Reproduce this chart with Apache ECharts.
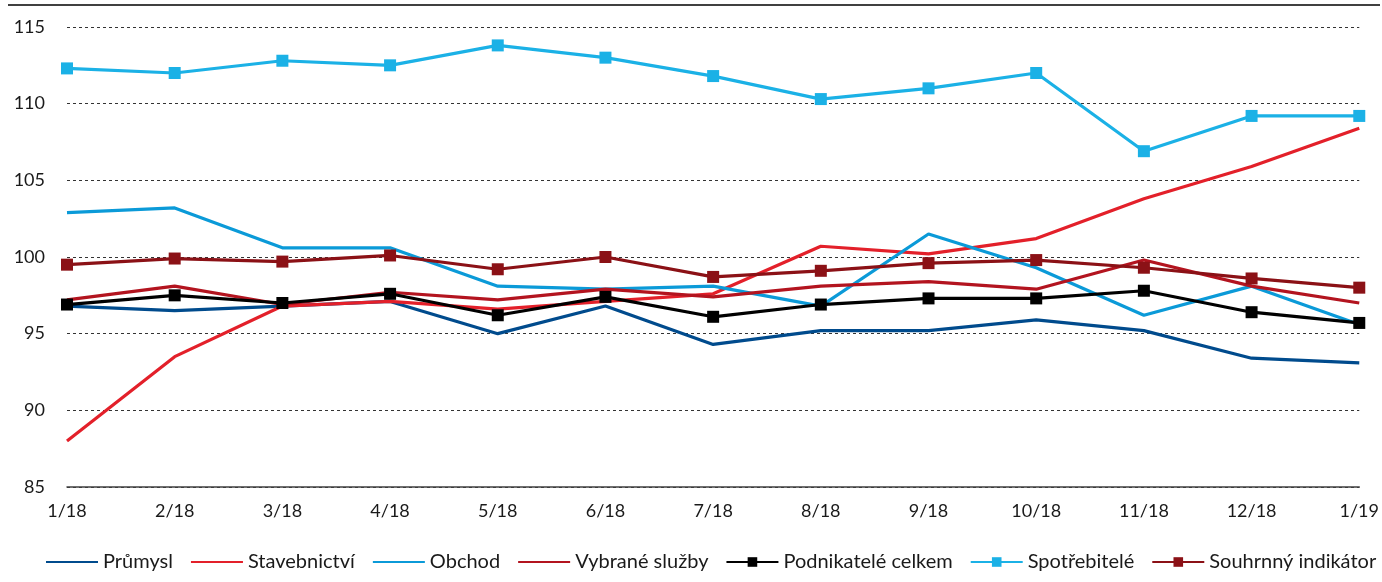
<!DOCTYPE html>
<html>
<head>
<meta charset="utf-8">
<script src="https://cdn.jsdelivr.net/npm/echarts@6/dist/echarts.min.js"></script>
<style>
html,body{margin:0;padding:0;background:#fff;}
#c{width:1382px;height:582px;}
</style>
</head>
<body>
<div id="c"></div>
<script>
const categories = ['1/18','2/18','3/18','4/18','5/18','6/18','7/18','8/18','9/18','10/18','11/18','12/18','1/19'];
const prumysl      = [96.8, 96.5, 96.8, 97.1, 95.0, 96.8, 94.3, 95.2, 95.2, 95.9, 95.2, 93.4, 93.1];
const stavebnictvi = [88.0, 93.5, 96.8, 97.1, 96.6, 97.1, 97.6, 100.7, 100.2, 101.2, 103.8, 105.9, 108.4];
const obchod       = [102.9, 103.2, 100.6, 100.6, 98.1, 97.9, 98.1, 96.8, 101.5, 99.3, 96.2, 98.1, 95.6];
const sluzby       = [97.2, 98.1, 96.9, 97.7, 97.2, 97.9, 97.4, 98.1, 98.4, 97.9, 99.8, 98.1, 97.0];
const podnikatele  = [96.9, 97.5, 97.0, 97.6, 96.2, 97.4, 96.1, 96.9, 97.3, 97.3, 97.8, 96.4, 95.7];
const spotrebitele = [112.3, 112.0, 112.8, 112.5, 113.8, 113.0, 111.8, 110.3, 111.0, 112.0, 106.9, 109.2, 109.2];
const souhrnny     = [99.5, 99.9, 99.7, 100.1, 99.2, 100.0, 98.7, 99.1, 99.6, 99.8, 99.3, 98.6, 98.0];
const yTicks = [85, 90, 95, 100, 105, 110, 115];
const seriesNames = ['Průmysl','Stavebnictví','Obchod','Vybrané služby','Podnikatelé celkem','Spotřebitelé','Souhrnný indikátor'];

const FONT = 'Lato, "Open Sans", sans-serif';
function line(name, data, color, marker) {
  return {
    name, type: 'line', data,
    symbol: marker ? 'rect' : 'none',
    symbolSize: marker ? 12 : 0,
    showSymbol: !!marker,
    lineStyle: {color, width: 3.2},
    itemStyle: {color},
    emphasis: {disabled: true},
    animation: false
  };
}
const markerSeries = {'Podnikatelé celkem': 1, 'Spotřebitelé': 1, 'Souhrnný indikátor': 1};
const chart = echarts.init(document.getElementById('c'), null, {renderer: 'canvas'});
chart.setOption({
  backgroundColor: '#fff',
  textStyle: {fontFamily: FONT},
  grid: {left: 67, right: 21, top: 27, bottom: 95, containLabel: false},
  xAxis: {
    type: 'category', data: categories, boundaryGap: false,
    axisLine: {lineStyle: {color: '#404040', width: 1.5}},
    axisTick: {show: false},
    axisLabel: {color: '#1a1a1a', fontSize: 18, margin: 15, fontFamily: FONT},
    splitLine: {show: false}
  },
  yAxis: {
    type: 'value', min: yTicks[0], max: yTicks[yTicks.length-1], interval: 5,
    axisLine: {show: false}, axisTick: {show: false},
    axisLabel: {color: '#1a1a1a', fontSize: 18, margin: 22, fontFamily: FONT},
    splitLine: {lineStyle: {color: '#333', type: [3, 3], width: 1}}
  },
  legend: {
    top: 547, left: 40, itemWidth: 52, itemHeight: 12, itemGap: 17,
    textStyle: {fontSize: 20, color: '#1a1a1a', fontFamily: FONT},
    data: seriesNames.map(n => markerSeries[n] ? {name: n} : {name: n, itemStyle: {opacity: 0}})
  },
  graphic: [{type: 'line', shape: {x1: 8, y1: 5, x2: 1380, y2: 5}, style: {stroke: '#000', lineWidth: 1.5}}],
  series: [
    line(seriesNames[0], prumysl, '#004b8d', false),
    line(seriesNames[1], stavebnictvi, '#e3202a', false),
    line(seriesNames[2], obchod, '#0b9ad8', false),
    line(seriesNames[3], sluzby, '#b3141f', false),
    line(seriesNames[4], podnikatele, '#000000', true),
    line(seriesNames[5], spotrebitele, '#1bb1e6', true),
    line(seriesNames[6], souhrnny, '#8b1116', true)
  ]
});
</script>
</body>
</html>
